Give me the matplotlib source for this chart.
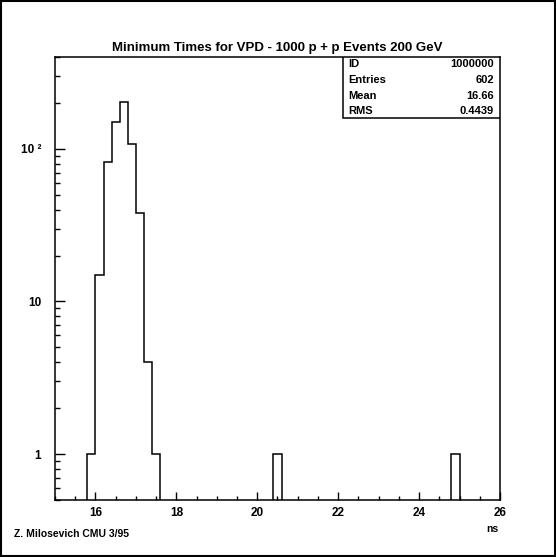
import matplotlib
matplotlib.use("Agg")
import matplotlib.pyplot as plt
from matplotlib.patches import Rectangle
from matplotlib.ticker import FixedLocator, MultipleLocator, LogLocator, NullFormatter

# histogram contents (bin width 0.2 ns)
bin_width = 0.2
peak_edges = [15.8, 16.0, 16.2, 16.4, 16.6, 16.8, 17.0, 17.2, 17.4, 17.6]
peak_counts = [1, 15, 82, 150, 202, 107, 38, 4, 1]
outlier_lo = [20.4, 24.8]
outlier_counts = [1, 1]

title = "Minimum Times for VPD - 1000 p + p Events 200 GeV"
stat_names = ["ID", "Entries", "Mean", "RMS"]
stat_values = ["1000000", "602", "16.66", "0.4439"]
x_ticks = [16, 18, 20, 22, 24, 26]
y_ticks = [1, 10, 100]
y_tick_labels = ["1", "10", "10 \u00b2"]

plt.rcParams["font.family"] = ["Liberation Sans", "DejaVu Sans"]
plt.rcParams["font.weight"] = "bold"

fig = plt.figure(figsize=(5.56, 5.57), dpi=100)
ax = fig.add_axes([55 / 556, 57 / 557, 445 / 556, 443 / 557])

# peak group and isolated bins, baseline below the axis so the sides run to the bottom
ax.stairs(peak_counts, peak_edges, baseline=1e-3, color="black", lw=1.1)
for lo, c in zip(outlier_lo, outlier_counts):
    ax.stairs([c], [lo, lo + bin_width], baseline=1e-3, color="black", lw=1.1)

ax.set_yscale("log")
ax.set_xlim(15, 26)
ax.set_ylim(0.5, 400)

ax.xaxis.set_major_locator(FixedLocator(x_ticks))
ax.xaxis.set_minor_locator(MultipleLocator(0.5))
ax.set_xticklabels([str(t) for t in x_ticks])
ax.yaxis.set_major_locator(FixedLocator(y_ticks))
ax.yaxis.set_minor_locator(LogLocator(base=10, subs=range(2, 10)))
ax.yaxis.set_minor_formatter(NullFormatter())
ax.set_yticklabels(y_tick_labels)

ax.tick_params(axis="both", which="both", direction="in", top=False, right=False,
               width=1, labelsize=8.5)
ax.tick_params(axis="x", which="major", length=6, pad=5)
ax.tick_params(axis="x", which="minor", length=3)
ax.tick_params(axis="y", which="major", length=7.5, pad=10)
ax.tick_params(axis="y", which="minor", length=3.6)
for s in ax.spines.values():
    s.set_linewidth(1.1)

ax.set_title(title, fontsize=9.5, fontweight="bold", pad=4)

# stats box in the top right corner
bx0, by0 = (343 - 55) / 445, (500 - 118) / 443
ax.add_patch(Rectangle((bx0, by0), 1 - bx0, 1 - by0, transform=ax.transAxes,
                       facecolor="white", edgecolor="black", lw=1.1, zorder=5))
row_y = [64, 80, 96, 111]
for name, val, py in zip(stat_names, stat_values, row_y):
    yy = (500 - py) / 443
    ax.text((348 - 55) / 445, yy, name, transform=ax.transAxes, fontsize=8,
            fontweight="bold", va="center", ha="left", zorder=6)
    ax.text((494 - 55) / 445, yy, val, transform=ax.transAxes, fontsize=8,
            fontweight="bold", va="center", ha="right", zorder=6)

fig.text(492 / 556, 1 - 529 / 557, "ns", fontsize=7.5, fontweight="bold",
         ha="center", va="center")
fig.text(14 / 556, 1 - 534 / 557, "Z. Milosevich CMU 3/95", fontsize=7.5,
         fontweight="bold", ha="left", va="center")

# outer frame around the whole picture
fig.add_artist(Rectangle((0.001, 0.001), 0.997, 0.997, transform=fig.transFigure,
                         fill=False, edgecolor="black", lw=1.5))

fig.savefig("out.png", dpi=100)
